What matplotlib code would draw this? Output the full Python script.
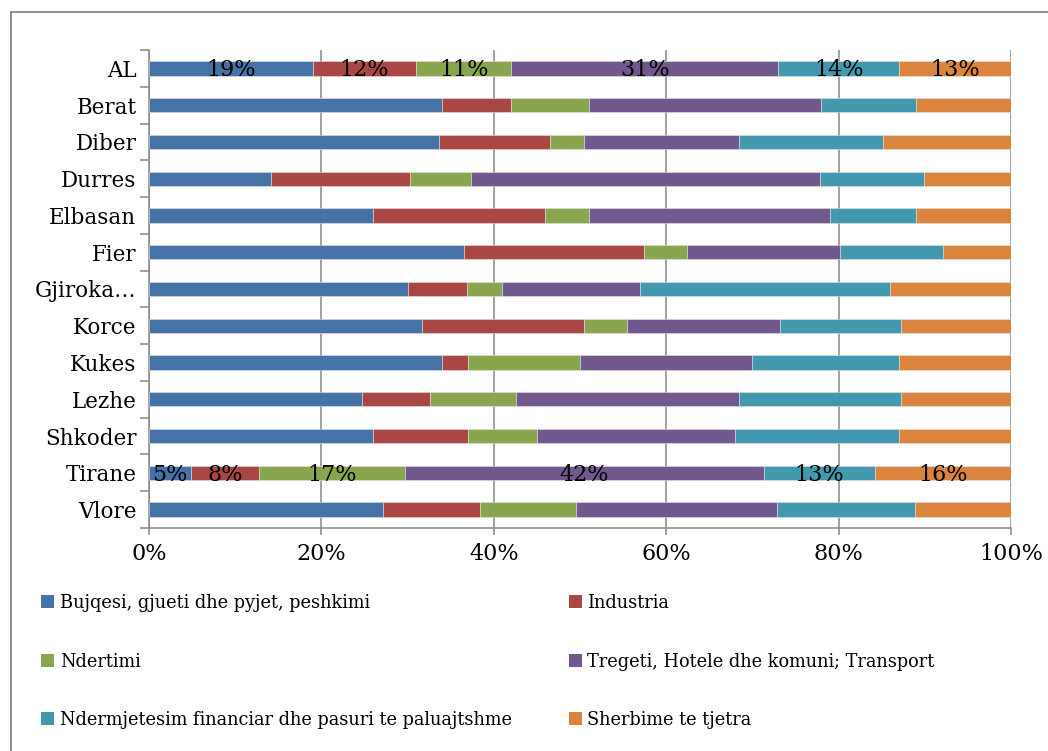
import matplotlib
matplotlib.use("Agg")
import matplotlib.pyplot as plt
import numpy as np
from matplotlib.lines import Line2D
from matplotlib.patches import Patch

regions = ["AL", "Berat", "Diber", "Durres", "Elbasan", "Fier", "Gjiroka…",
           "Korce", "Kukes", "Lezhe", "Shkoder", "Tirane", "Vlore"]
series_names = ["Bujqesi, gjueti dhe pyjet, peshkimi", "Industria", "Ndertimi",
                "Tregeti, Hotele dhe komuni; Transport",
                "Ndermjetesim financiar dhe pasuri te paluajtshme", "Sherbime te tjetra"]
bujqesi   = [19.0, 34.0, 33.6, 14.1, 26.0, 36.6, 30.0, 31.7, 34.0, 24.7, 26.0, 4.9, 27.2]
industria = [12.0,  8.0, 12.9, 16.2, 19.9, 20.8,  6.9, 18.8,  3.0,  7.9, 11.0, 7.9, 11.2]
ndertimi  = [11.0,  9.0,  4.0,  7.1,  5.1,  5.0,  4.1,  5.0, 13.0, 10.0,  8.0, 16.9, 11.1]
tregeti   = [31.0, 27.0, 17.9, 40.4, 28.0, 17.8, 16.0, 17.7, 20.0, 25.8, 23.0, 41.6, 23.3]
financ    = [14.0, 11.0, 16.8, 12.1, 10.0, 11.9, 29.0, 14.0, 17.0, 18.8, 19.0, 12.9, 16.1]
sherbime  = [13.0, 11.0, 14.8, 10.1, 11.0,  7.9, 14.0, 12.8, 13.0, 12.8, 13.0, 15.8, 11.1]
# labelled rows and their printed labels
label_rows = {"AL": ["19%", "12%", "11%", "31%", "14%", "13%"],
              "Tirane": ["5%", "8%", "17%", "42%", "13%", "16%"]}
xticklabels = ["0%", "20%", "40%", "60%", "80%", "100%"]

colors = ["#4572A7", "#AA4643", "#89A54E", "#71588F", "#4198AF", "#DB843D"]
series = [bujqesi, industria, ndertimi, tregeti, financ, sherbime]

plt.rcParams['font.family'] = ['DejaVu Serif']

W, H = 1048, 751
fig = plt.figure(figsize=(W / 100, H / 100), dpi=100)
ax = fig.add_axes([149 / W, 1 - 528 / H, (1011 - 149) / W, (528 - 50) / H])

y = np.arange(len(regions))
data = np.array(series, dtype=float)
totals = data.sum(axis=0)
pct = data / totals * 100
left = np.zeros(len(regions))
for i in range(len(series)):
    ax.barh(y, pct[i], left=left, height=0.39, color=colors[i],
            edgecolor="#e0e0e0", linewidth=0.4, zorder=3)
    for r, lab in label_rows.items():
        j = regions.index(r)
        ax.text(left[j] + pct[i][j] / 2, j + 0.05, lab[i], ha="center", va="center",
                fontsize=16, color="black", zorder=4)
    left += pct[i]

ax.set_xlim(0, 100)
ax.set_ylim(len(regions) - 0.5, -0.5)
ax.set_xticks([0, 20, 40, 60, 80, 100])
ax.set_xticklabels(xticklabels, fontsize=16)
ax.set_yticks(y)
ax.set_yticklabels(regions, fontsize=15.5)
ax.set_yticks(np.arange(-0.5, len(regions), 1), minor=True)
ax.tick_params(axis="y", which="major", length=0, pad=9)
ax.tick_params(axis="y", which="minor", length=6.5, width=1.1, color="#868686", direction="out")
ax.tick_params(axis="x", which="major", length=5, width=1.1, color="#868686", pad=6)
ax.xaxis.grid(True, color="#868686", linewidth=1.1, zorder=0)
ax.set_axisbelow(True)
for s in ["top", "right"]:
    ax.spines[s].set_visible(False)
for s in ["left", "bottom"]:
    ax.spines[s].set_color("#868686")
    ax.spines[s].set_linewidth(1.1)

# legend (row-major order across two columns)
handles = [Patch(facecolor=c, edgecolor="none") for c in colors]
order = [0, 2, 4, 1, 3, 5]
fig.legend([handles[k] for k in order], [series_names[k] for k in order],
           loc="upper left", bbox_to_anchor=(41 / W, 1 - 594 / H), ncol=2, frameon=False,
           fontsize=12.8, handlelength=0.75, handleheight=0.75, handletextpad=0.3,
           labelspacing=2.28, columnspacing=3.2, borderaxespad=0, borderpad=0)

# outer frame
fig.add_artist(Line2D([11 / W, 11 / W], [0, 1 - 12 / H], transform=fig.transFigure,
                      color="#868686", linewidth=1.3))
fig.add_artist(Line2D([11 / W, 1], [1 - 12 / H, 1 - 12 / H], transform=fig.transFigure,
                      color="#868686", linewidth=1.3))

fig.savefig("out.png", dpi=100, facecolor="white")
